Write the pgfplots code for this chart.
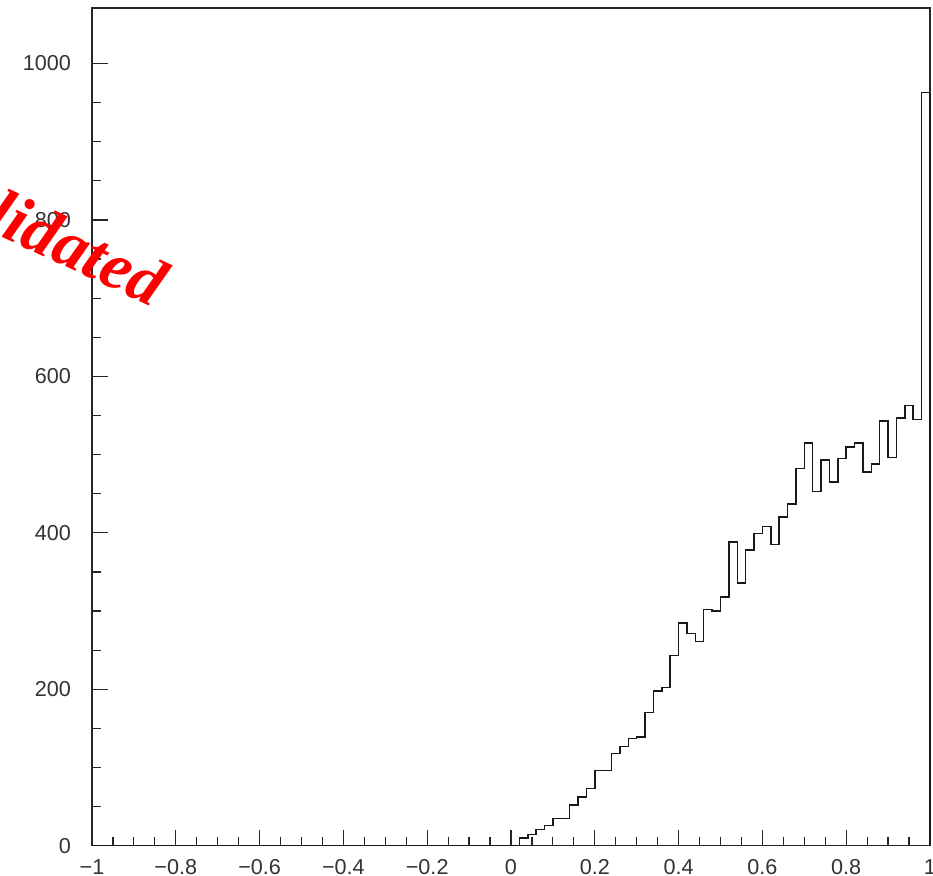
\documentclass[border=0pt]{standalone}
\usepackage{fontspec}
\setmainfont{Liberation Sans}
\newfontfamily\stampfont{Liberation Serif}
\usepackage{pgfplots}
\pgfplotsset{compat=1.18}

% cos(theta) distribution, 100 bins of width 0.02 on [-1,1]; left bin edge and count
\begin{document}
\begin{tikzpicture}
\begin{axis}[
  scale only axis,
  width=419pt, height=418.85pt,
  xmin=-1, xmax=1, ymin=0, ymax=1071,
  axis line style={line width=0.65pt, black!85},
  xtick={-1,-0.8,-0.6,-0.4,-0.2,0,0.2,0.4,0.6,0.8,1},
  xticklabels={−1,−0.8,−0.6,−0.4,−0.2,0,0.2,0.4,0.6,0.8,1},
  ytick={0,200,400,600,800,1000},
  yticklabels={0,200,400,600,800,1000},
  minor x tick num=3, minor y tick num=3,
  tick align=inside, xtick pos=bottom, ytick pos=left,
  major tick length=8pt, minor tick length=4.3pt,
  tick style={line width=0.6pt, black!85},
  tick label style={font=\fontsize{10.8}{13}\selectfont, black!80},
  xticklabel style={yshift=-3.2pt},
  yticklabel style={xshift=-7pt},
  clip=false,
]
\addplot[const plot mark left, line width=0.75pt, black!90] coordinates {
  (-1,0) (0.00,0) (0.02,10) (0.04,14) (0.06,21) (0.08,26)
  (0.10,35) (0.12,35) (0.14,52) (0.16,62) (0.18,73)
  (0.20,96) (0.22,96) (0.24,118) (0.26,127) (0.28,137)
  (0.30,139) (0.32,170) (0.34,198) (0.36,202) (0.38,243)
  (0.40,285) (0.42,271) (0.44,261) (0.46,302) (0.48,300)
  (0.50,318) (0.52,388) (0.54,336) (0.56,378) (0.58,399)
  (0.60,408) (0.62,385) (0.64,420) (0.66,437) (0.68,482)
  (0.70,515) (0.72,453) (0.74,493) (0.76,465) (0.78,495)
  (0.80,510) (0.82,515) (0.84,478) (0.86,488) (0.88,543)
  (0.90,496) (0.92,547) (0.94,563) (0.96,545) (0.98,963)
  (1.00,963) (1.00,0)
};
\end{axis}
% stamp across the upper left corner
\node[anchor=base east, rotate=-25, text=red, inner sep=0pt,
      font=\stampfont\bfseries\itshape\fontsize{33.5}{40}\selectfont]
  at (30.5pt,269pt) {Not validated};
\pgfresetboundingbox
\useasboundingbox (-46pt,-15.15pt) rectangle (420.5pt,422.85pt);
\end{tikzpicture}
\end{document}
